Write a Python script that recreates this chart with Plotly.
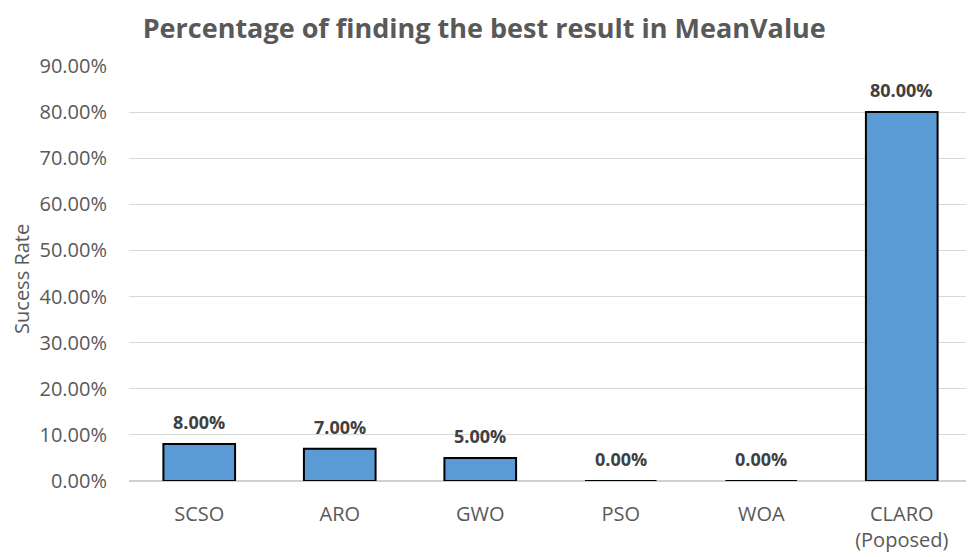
import plotly.graph_objects as go

categories = ["SCSO", "ARO", "GWO", "PSO", "WOA", "CLARO<br>(Poposed)"]
success_rate = [0.08, 0.07, 0.05, 0.00, 0.00, 0.80]
y_ticks = [i / 10 for i in range(10)]
y_tick_labels = [f"{v*100:.2f}%" for v in y_ticks]

fig = go.Figure()
fig.add_trace(go.Bar(
    x=categories, y=success_rate,
    width=0.51,
    marker=dict(color="#5b9bd5", line=dict(color="#000000", width=2)),
    hoverinfo="x+y",
))

for c, v in zip(categories, success_rate):
    fig.add_annotation(x=c, y=v, text=f"<b>{v*100:.2f}%</b>", showarrow=False,
                       yanchor="bottom", yshift=8,
                       font=dict(family="Open Sans", size=18, color="#404040"))

# y-axis title as a rotated annotation
fig.add_annotation(text="Sucess Rate", xref="paper", yref="paper",
                   x=-0.1269, y=0.487, xanchor="center", yanchor="middle",
                   textangle=-90, showarrow=False,
                   font=dict(family="Open Sans", size=20, color="#595959"))

# page body has an 8px margin, so the figure is sized/offset accordingly
fig.update_layout(
    width=966, height=549,
    margin=dict(l=121, r=2, t=58, b=76),
    paper_bgcolor="white", plot_bgcolor="white",
    title=dict(text="<b>Percentage of finding the best result in MeanValue</b>",
               x=0.493, xanchor="center", y=0.963, yanchor="middle",
               font=dict(family="Open Sans", size=27, color="#595959")),
    showlegend=False,
    bargap=0.49,
    xaxis=dict(showgrid=False, showline=False, ticks="", ticklabelstandoff=19,
               automargin=False,
               tickfont=dict(family="Open Sans", size=20, color="#595959")),
    yaxis=dict(range=[0, 0.9], tickvals=y_ticks, ticktext=y_tick_labels,
               automargin=False,
               showgrid=True, gridcolor="#d9d9d9", gridwidth=1,
               zeroline=True, zerolinecolor="#d0d0d0", zerolinewidth=1.5,
               ticks="", ticklabelstandoff=21,
               tickfont=dict(family="Open Sans", size=20, color="#595959")),
)

fig.write_html("out.html")
